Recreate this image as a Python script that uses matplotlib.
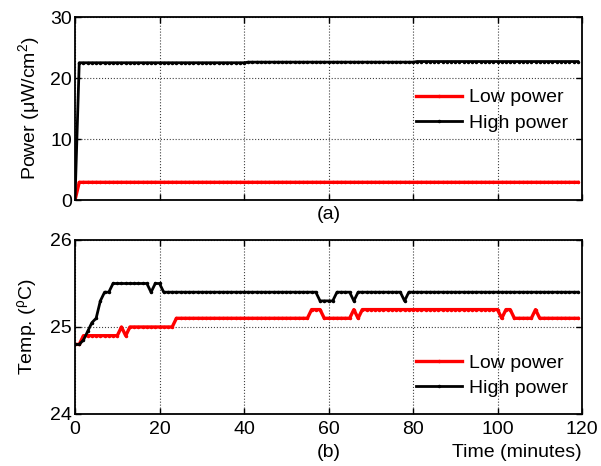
import numpy as np
import matplotlib
matplotlib.use("Agg")
import matplotlib.pyplot as plt

plt.rcParams['font.family'] = ['Liberation Sans', 'DejaVu Sans']
plt.rcParams['mathtext.fontset'] = 'custom'
plt.rcParams['mathtext.rm'] = 'Liberation Sans'
plt.rcParams['mathtext.it'] = 'Liberation Sans:italic'

# time axis, one sample per minute
minutes = np.arange(120)

# power (uW/cm^2), written as run-lengths: value, count
power_low_vals = [0.0, 2.9]
power_low_counts = [1, 119]
power_high_vals = [0.0, 22.5, 22.6, 22.7]
power_high_counts = [1, 40, 40, 39]

# temperature (deg C), run-lengths
temp_low_vals = [24.8, 24.9, 25.0, 24.9, 25.0, 25.1, 25.2, 25.1, 25.2, 25.1,
                 25.2, 25.1, 25.2, 25.1, 25.2, 25.1]
temp_low_counts = [2, 9, 1, 1, 11, 32, 3, 7, 1, 1, 33, 1, 2, 5, 1, 10]
temp_high_vals = [24.8, 24.85, 24.95, 25.05, 25.1, 25.3, 25.4, 25.5, 25.4, 25.5,
                  25.4, 25.3, 25.4, 25.3, 25.4, 25.3, 25.4]
temp_high_counts = [2, 1, 1, 1, 1, 1, 2, 9, 1, 2, 37, 4, 4, 1, 11, 1, 41]

power_low = np.repeat(power_low_vals, power_low_counts)
power_high = np.repeat(power_high_vals, power_high_counts)
temp_low = np.repeat(temp_low_vals, temp_low_counts)
temp_high = np.repeat(temp_high_vals, temp_high_counts)

labels = ["Low power", "High power"]
fs = 14

fig = plt.figure(figsize=(6.01, 4.66), dpi=100)
ax1 = fig.add_axes([0.1248, 0.5708, 0.8436, 0.3927])
ax2 = fig.add_axes([0.1248, 0.1116, 0.8436, 0.3734])


def style(ax):
    ax.grid(True, linestyle=':', color='0.25', linewidth=0.8)
    ax.tick_params(direction='in', top=True, right=True, length=4,
                   width=1.0, labelsize=fs, pad=2)
    ax.tick_params(axis='x', pad=5)
    for s in ax.spines.values():
        s.set_linewidth(1.3)
    ax.set_xlim(0, 120)
    ax.set_xticks(np.arange(0, 121, 20))


ax1.plot(minutes, power_low, color='red', lw=2.4, marker='.', ms=3, label=labels[0])
ax1.plot(minutes, power_high, color='black', lw=2.0, marker='.', ms=3, label=labels[1])
style(ax1)
ax1.set_ylim(0, 30)
ax1.set_yticks([0, 10, 20, 30])
ax1.set_xticklabels([])
ax1.set_ylabel('Power (μW/cm$^2$)', fontsize=fs, labelpad=6)
ax1.legend(loc='center right', bbox_to_anchor=(1.0, 0.49), frameon=False,
           fontsize=fs, handlelength=2.4, handletextpad=0.35,
           labelspacing=0.4, borderaxespad=0.3)
ax1.text(0.5, -0.08, '(a)', transform=ax1.transAxes, ha='center', va='center',
         fontsize=fs)

ax2.plot(minutes, temp_low, color='red', lw=2.4, marker='.', ms=3, label=labels[0])
ax2.plot(minutes, temp_high, color='black', lw=2.0, marker='.', ms=3, label=labels[1])
style(ax2)
ax2.set_ylim(24, 26)
ax2.set_yticks([24, 25, 26])
ax2.set_ylabel('Temp. ($^{\\mathrm{ρ}}$C)', fontsize=fs, labelpad=8)
ax2.legend(loc='center right', bbox_to_anchor=(1.0, 0.22), frameon=False,
           fontsize=fs, handlelength=2.4, handletextpad=0.35,
           labelspacing=0.4, borderaxespad=0.3)
ax2.text(0.5, -0.22, '(b)', transform=ax2.transAxes, ha='center', va='center',
         fontsize=fs)
ax2.text(1.0, -0.22, 'Time (minutes)', transform=ax2.transAxes, ha='right',
         va='center', fontsize=fs)

fig.savefig('out.png', dpi=100)
